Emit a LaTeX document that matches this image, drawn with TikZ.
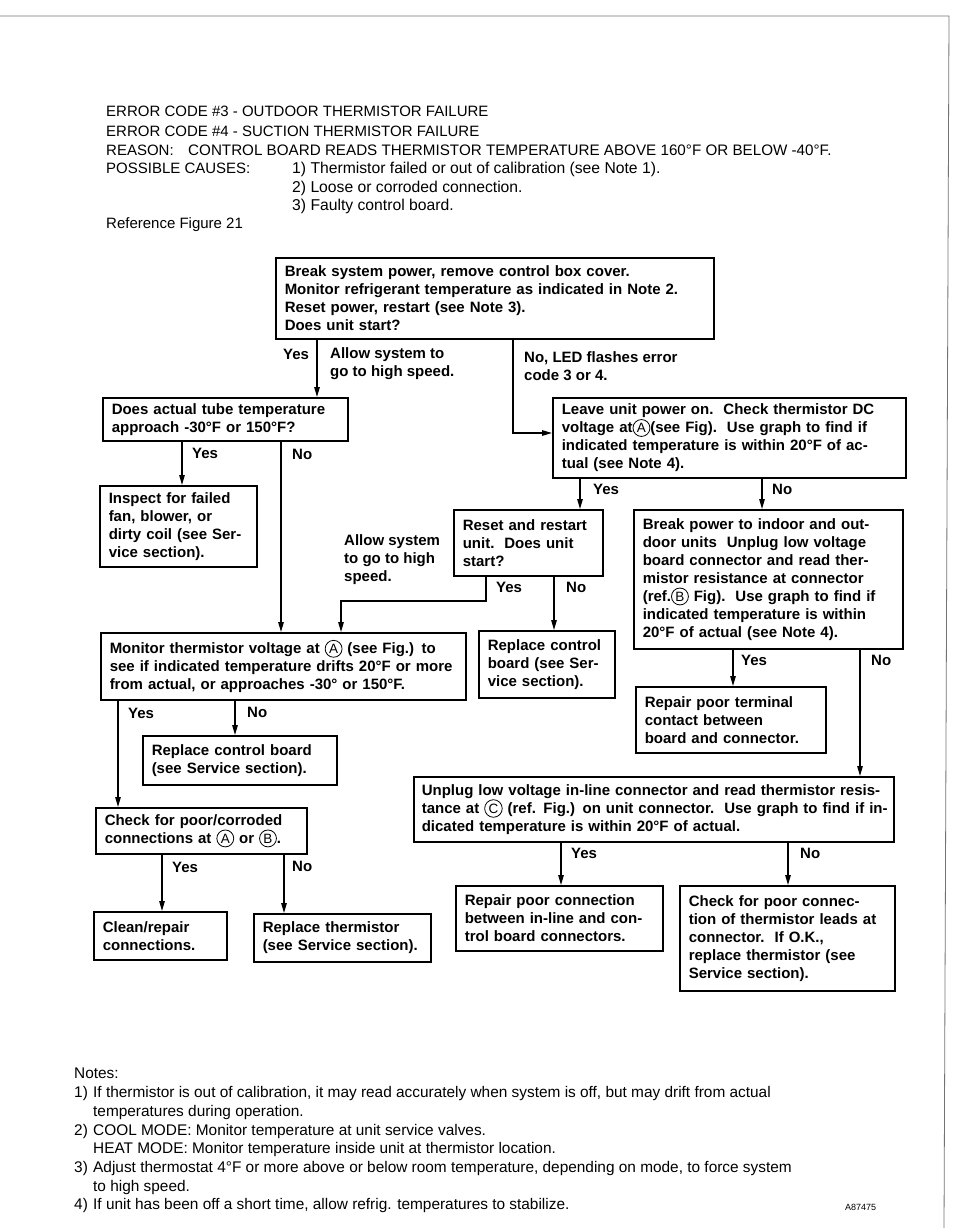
\documentclass[tikz,border=0pt]{standalone}
\usepackage{fontspec}
\setmainfont{Liberation Sans}
\usetikzlibrary{arrows.meta}
\newcommand{\cir}[1]{\tikz[baseline=(cirn.base)]\node[circle, draw, line width=0.8pt, inner sep=1.4pt, text width={}, minimum width=0pt, minimum height=0pt, anchor=center, align=center, font=\mdseries\fontsize{13.5}{14}\selectfont] (cirn) {#1};}
\newcommand{\ml}[1]{\mbox{#1}}
\begin{document}
\begin{tikzpicture}[x=1pt,y=-1pt,
 box/.style={draw, line width=1.5pt, inner xsep=9pt, inner ysep=0pt, anchor=north west, align=left, font=\bfseries\fontsize{15}{18}\selectfont},
 lbl/.style={inner sep=0pt, font=\bfseries\fontsize{15}{18}\selectfont, align=left},
 hdr/.style={inner sep=0pt, anchor=base west, font=\fontsize{15}{18.5}\selectfont},
 hdrw/.style={hdr, font=\fontsize{15.7}{18.5}\selectfont},
 note/.style={hdr, font=\fontsize{15.4}{18.5}\selectfont},
 arr/.style={line width=1.3pt, -{Triangle[length=10pt,width=5.5pt]}},
 pageline/.style={line width=0.8pt, black!55}]
\useasboundingbox (0,0) rectangle (954,1228);
% page edges
\coordinate (pg1) at (0,16); \coordinate (pg2) at (949,16); \coordinate (pg3) at (944,1228);
\draw[pageline] (pg1) -- (pg2) -- (pg3);
% header
\node[hdr] (h1) at (106,117) {ERROR CODE \#3 - OUTDOOR THERMISTOR FAILURE};
\node[hdr] (h2) at (106,136) {ERROR CODE \#4 - SUCTION THERMISTOR FAILURE};
\node[hdr] (h3) at (106,155) {REASON:};
\node[hdr, font=\fontsize{15.2}{18.5}\selectfont] (h3b) at (188,155) {CONTROL BOARD READS THERMISTOR TEMPERATURE ABOVE 160°F OR BELOW -40°F.};
\node[hdr] (h4) at (106,173) {POSSIBLE CAUSES:};
\node[hdrw] (h4b) at (292,173) {1) Thermistor failed or out of calibration (see Note 1).};
\node[hdrw] (h5) at (292,192) {2) Loose or corroded connection.};
\node[hdrw] (h6) at (292,210) {3) Faulty control board.};
\node[hdr] (h7) at (106,228) {Reference Figure 21};
% boxes
\node[box, text width=420pt, minimum height=81pt] (b1) at (275,257) {\ml{Break system power, remove control box cover.}\\\ml{Monitor refrigerant temperature as indicated in Note 2.}\\\ml{Reset power, restart (see Note 3).}\\\ml{Does unit start?}};
\node[box, text width=227pt, minimum height=43pt] (b2) at (102,397) {\ml{Does actual tube temperature}\\\ml{approach -30°F or 150°F?}};
\node[box, text width=139pt, minimum height=81pt] (b3) at (99,485) {\ml{Inspect for failed}\\\ml{fan, blower, or}\\\ml{dirty coil (see Ser-}\\\ml{vice section).}};
\node[box, text width=335pt, minimum height=80pt] (b4) at (552,397) {\ml{Leave unit power on.\ \ Check thermistor DC}\\\ml{voltage at\cir{A}(see Fig).\ \ Use graph to find if}\\\ml{indicated temperature is within 20°F of ac-}\\\ml{tual (see Note 4).}};
\node[box, text width=131pt, minimum height=66pt] (b5) at (453,509) {\ml{Reset and restart}\\\ml{unit.\ \ Does unit}\\\ml{start?}};
\node[box, text width=251pt, minimum height=139pt] (b6) at (633,509) {\ml{Break power to indoor and out-}\\\ml{door units\ \ Unplug low voltage}\\\ml{board connector and read ther-}\\\ml{mistor resistance at connector}\\\ml{(ref.\cir{B} Fig).\ \ Use graph to find if}\\\ml{indicated temperature is within}\\\ml{20°F of actual (see Note 4).}};
\node[box, text width=347pt, minimum height=67pt] (b7) at (100,632) {\ml{Monitor thermistor voltage at \cir{A} (see Fig.) to}\\\ml{see if indicated temperature drifts 20°F or more}\\\ml{from actual, or approaches -30° or 150°F.}};
\node[box, text width=118pt, minimum height=67pt] (b8) at (478,630) {\ml{Replace control}\\\ml{board (see Ser-}\\\ml{vice section).}};
\node[box, text width=172pt, minimum height=66pt] (b9) at (635,686) {\ml{Repair poor terminal}\\\ml{contact between}\\\ml{board and connector.}};
\node[box, text width=176pt, minimum height=49pt] (b10) at (142,735) {\ml{Replace control board}\\\ml{(see Service section).}};
\node[box, text width=464pt, inner xsep=8pt, minimum height=65pt] (b11) at (413,776) {\ml{Unplug low voltage in-line connector and read thermistor resis-}\\\ml{tance at \cir{C} (ref. Fig.) on unit connector.\ \ Use graph to find if in-}\\\ml{dicated temperature is within 20°F of actual.}};
\node[box, text width=193pt, minimum height=46pt] (b12) at (95,807) {\ml{Check for poor/corroded}\\\ml{connections at \cir{A} or \cir{B}.}};
\node[box, text width=115pt, minimum height=48pt] (b13) at (93,911) {\ml{Clean/repair}\\\ml{connections.}};
\node[box, text width=159pt, minimum height=48pt] (b14) at (253,913) {\ml{Replace thermistor}\\\ml{(see Service section).}};
\node[box, text width=189pt, minimum height=65pt] (b15) at (455,885) {\ml{Repair poor connection}\\\ml{between in-line and con-}\\\ml{trol board connectors.}};
\node[box, text width=197pt, minimum height=105pt] (b16) at (679,885) {\ml{Check for poor connec-}\\\ml{tion of thermistor leads at}\\\ml{connector.\ \ If O.K.,}\\\ml{replace thermistor (see}\\\ml{Service section).}};
% labels
\node[lbl, anchor=base west] (l1) at (283,359) {Yes};
\node[lbl, anchor=west] (l2) at (330,363.5) {Allow system to\\go to high speed.};
\node[lbl, anchor=west] (l3) at (524,366.5) {No, LED flashes error\\code 3 or 4.};
\node[lbl, anchor=base west] (l4) at (192,458) {Yes};
\node[lbl, anchor=base west] (l5) at (292,459) {No};
\node[lbl, anchor=base west] (l6) at (593,494) {Yes};
\node[lbl, anchor=base west] (l7) at (772,494) {No};
\node[lbl, anchor=west] (l8) at (344,559.5) {Allow system\\to go to high\\speed.};
\node[lbl, anchor=base west] (l9) at (496,592) {Yes};
\node[lbl, anchor=base west] (l10) at (566,592) {No};
\node[lbl, anchor=base west] (l11) at (741,665) {Yes};
\node[lbl, anchor=base west] (l12) at (871,665) {No};
\node[lbl, anchor=base west] (l13) at (128,718) {Yes};
\node[lbl, anchor=base west] (l14) at (247,717) {No};
\node[lbl, anchor=base west] (l15) at (172,872) {Yes};
\node[lbl, anchor=base west] (l16) at (292,871) {No};
\node[lbl, anchor=base west] (l17) at (571,858) {Yes};
\node[lbl, anchor=base west] (l18) at (800,858) {No};
% connector x positions
\coordinate (x317) at (317,0); \coordinate (x182) at (182,0); \coordinate (x281) at (281,0);
\coordinate (x580) at (580,0); \coordinate (x762) at (762,0); \coordinate (x554) at (554,0);
\coordinate (x733) at (733,0); \coordinate (x860) at (860,0); \coordinate (x118) at (118,0);
\coordinate (x235) at (235,0); \coordinate (x162) at (162,0); \coordinate (x284) at (284,0);
\coordinate (x561) at (561,0); \coordinate (x788) at (788,0);
\coordinate (j1) at (513,433); \coordinate (j2) at (486,601); \coordinate (j3) at (341,601);
% connectors
\draw[arr] (b1.south -| x317) -- (b2.north -| x317);
\draw[arr] (b1.south -| j1) -- (j1) -- (b4.west |- j1);
\draw[arr] (b2.south -| x182) -- (b3.north -| x182);
\draw[arr] (b2.south -| x281) -- (b7.north -| x281);
\draw[arr] (b4.south -| x580) -- (b5.north -| x580);
\draw[arr] (b4.south -| x762) -- (b6.north -| x762);
\draw[arr] (b5.south -| j2) -- (j2) -- (j3) -- (b7.north -| j3);
\draw[arr] (b5.south -| x554) -- (b8.north -| x554);
\draw[arr] (b6.south -| x733) -- (b9.north -| x733);
\draw[arr] (b6.south -| x860) -- (b11.north -| x860);
\draw[arr] (b7.south -| x118) -- (b12.north -| x118);
\draw[arr] (b7.south -| x235) -- (b10.north -| x235);
\draw[arr] (b12.south -| x162) -- (b13.north -| x162);
\draw[arr] (b12.south -| x284) -- (b14.north -| x284);
\draw[arr] (b11.south -| x561) -- (b15.north -| x561);
\draw[arr] (b11.south -| x788) -- (b16.north -| x788);
% notes
\node[note] (n0) at (74,1078) {Notes:};
\node[note] (n1a) at (74,1097) {1)};
\node[note] (n1) at (93,1097) {If thermistor is out of calibration, it may read accurately when system is off, but may drift from actual};
\node[note] (n1b) at (93,1116) {temperatures during operation.};
\node[note] (n2a) at (74,1135) {2)};
\node[note] (n2) at (93,1135) {COOL MODE: Monitor temperature at unit service valves.};
\node[note] (n2b) at (93,1153) {HEAT MODE: Monitor temperature inside unit at thermistor location.};
\node[note] (n3a) at (74,1172) {3)};
\node[note] (n3) at (93,1172) {Adjust thermostat 4°F or more above or below room temperature, depending on mode, to force system};
\node[note] (n3b) at (93,1191) {to high speed.};
\node[note] (n4a) at (74,1209) {4)};
\node[note] (n4) at (93,1209) {If unit has been off a short time, allow refrig. temperatures to stabilize.};
\node[hdr, font=\fontsize{9}{10}\selectfont] (code) at (845,1210.5) {A87475};
\end{tikzpicture}
\end{document}
